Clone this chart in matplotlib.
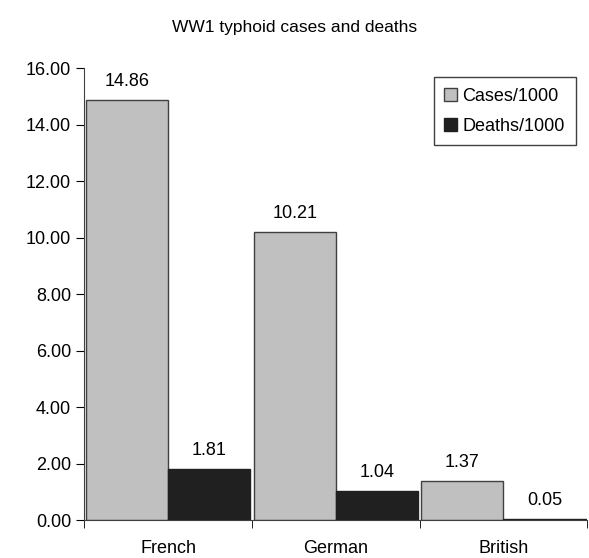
import numpy as np
import matplotlib.pyplot as plt
from matplotlib.ticker import FormatStrFormatter

plt.rcParams['font.family'] = ['Liberation Sans', 'DejaVu Sans']

countries = ["French", "German", "British"]
cases = [14.86, 10.21, 1.37]
deaths = [1.81, 1.04, 0.05]

x = np.arange(len(countries))
w = 0.49

fig = plt.figure(figsize=(5.89, 5.58), dpi=100)
ax = fig.add_axes([0.143, 0.068, 0.854, 0.81])

b1 = ax.bar(x - w / 2, cases, w, color='#c0c0c0', edgecolor='#404040', linewidth=1, label='Cases/1000')
b2 = ax.bar(x + w / 2, deaths, w, color='#202020', edgecolor='#202020', linewidth=1, label='Deaths/1000')

for bars, vals in [(b1, cases), (b2, deaths)]:
    for r, v in zip(bars, vals):
        ax.text(r.get_x() + r.get_width() / 2, v + 0.35, f"{v:.2f}", ha='center', va='bottom', fontsize=13)

ax.set_xlim(-0.5, 2.5)
ax.set_ylim(0, 16)
ax.set_yticks(np.arange(0, 17, 2))
ax.yaxis.set_major_formatter(FormatStrFormatter('%.2f'))
ax.tick_params(axis='y', labelsize=13, length=6, direction='out')

ax.set_xticks(x)
ax.set_xticklabels(countries, fontsize=13)
ax.tick_params(axis='x', which='major', length=0, pad=14)
ax.set_xticks([-0.5, 0.5, 1.5, 2.5], minor=True)
ax.tick_params(axis='x', which='minor', length=6, direction='out')

for s in ['top', 'right']:
    ax.spines[s].set_visible(False)
for s in ['left', 'bottom']:
    ax.spines[s].set_color('#404040')

leg = ax.legend(loc='upper right', fontsize=13, fancybox=False, framealpha=1,
                edgecolor='#404040', handlelength=0.7, handleheight=0.7,
                handletextpad=0.3, borderpad=0.6, labelspacing=0.7,
                bbox_to_anchor=(0.995, 1.0))

fig.text(0.5, 0.943, "WW1 typhoid cases and deaths", ha='center', fontsize=12.5)

fig.savefig("out.png", dpi=100)
